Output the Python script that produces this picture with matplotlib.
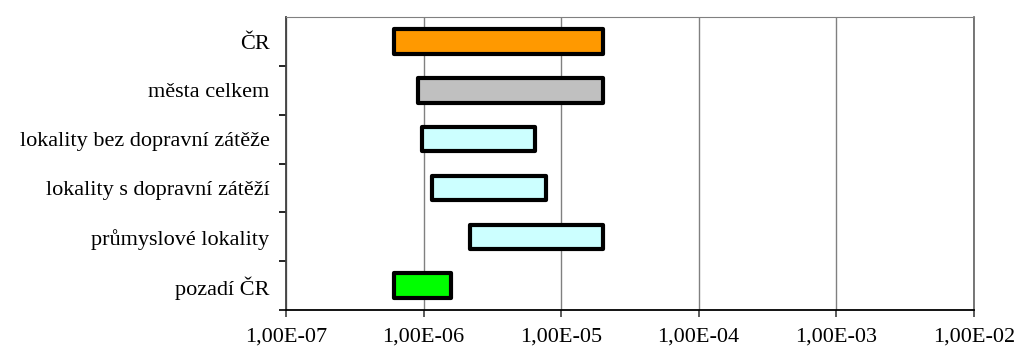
import numpy as np
import matplotlib.pyplot as plt
from matplotlib.ticker import FixedLocator, FuncFormatter

# kategorie odshora dolu
kategorie = ['ČR', 'města celkem', 'lokality bez dopravní zátěže',
             'lokality s dopravní zátěží', 'průmyslové lokality', 'pozadí ČR']
minimum = [6.1e-7, 9.1e-7, 9.8e-7, 1.15e-6, 2.18e-6, 6.1e-7]
maximum = [2.0e-5, 2.0e-5, 6.5e-6, 7.7e-6, 2.0e-5, 1.59e-6]
barvy = ['#FF9900', '#C0C0C0', '#CCFFFF', '#CCFFFF', '#CCFFFF', '#00FF00']

plt.rcParams['font.family'] = ['Liberation Serif', 'DejaVu Serif']

fig = plt.figure(figsize=(10.18, 3.49), dpi=100)
ax = fig.add_axes([0.281, 0.112, 0.6755, 0.839])

n = len(kategorie)
y = np.arange(n)[::-1]
sirka = np.array(maximum) - np.array(minimum)
ax.barh(y, sirka, left=minimum, height=0.5, color=barvy,
        edgecolor='black', linewidth=3.0, joinstyle='round', zorder=3)

ax.set_xscale('log')
ax.set_xlim(1e-7, 1e-2)
ax.set_ylim(-0.5, n - 0.5)

ax.xaxis.set_major_locator(FixedLocator([1e-7, 1e-6, 1e-5, 1e-4, 1e-3, 1e-2]))
ax.xaxis.set_minor_locator(FixedLocator([]))
ax.xaxis.set_major_formatter(FuncFormatter(
    lambda v, p: ('%.2E' % v).replace('.', ',')))
ax.grid(axis='x', color='#808080', linewidth=1.0, zorder=0)

ax.set_yticks(y)
ax.set_yticklabels(kategorie)
ax.yaxis.set_minor_locator(FixedLocator(np.arange(-0.5, n - 1, 1.0)))
ax.tick_params(axis='y', which='major', length=0, pad=12, labelsize=16)
ax.tick_params(axis='y', which='minor', length=5, width=1.2, direction='out')
ax.tick_params(axis='x', length=5, width=1.2, direction='out', pad=8,
               labelsize=16, color='#404040')

for s in ['left', 'bottom']:
    ax.spines[s].set_linewidth(1.3)
    ax.spines[s].set_color('black')
ax.spines['left'].set_color('#404040')
ax.spines['top'].set_color('#808080')
ax.spines['right'].set_color('#606060')
ax.spines['right'].set_linewidth(1.2)

fig.savefig('out.png', dpi=100)
